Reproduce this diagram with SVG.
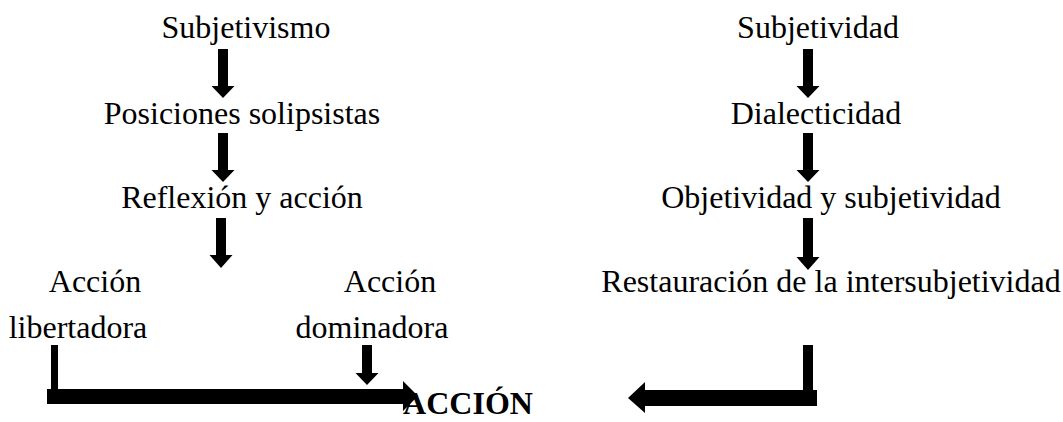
<svg xmlns="http://www.w3.org/2000/svg" width="1063" height="422" viewBox="0 0 1063 422">
<style>
.t{font-family:"Liberation Serif","Times New Roman",serif;font-size:32px;fill:#000;text-anchor:middle}
.b{font-weight:bold}
.a{fill:#000;stroke:none}
</style>
<rect width="1063" height="422" fill="#fff"/>
<g id="n-subjetivismo"><text class="t" x="246" y="38">Subjetivismo</text></g>
<g id="n-posiciones"><text class="t" x="242" y="124">Posiciones solipsistas</text></g>
<g id="n-reflexion"><text class="t" x="242" y="208">Reflexión y acción</text></g>
<g id="n-accion-lib"><text class="t" x="95" y="292">Acción</text><text class="t" x="78" y="338">libertadora</text></g>
<g id="n-accion-dom"><text class="t" x="390" y="292">Acción</text><text class="t" x="372" y="338">dominadora</text></g>
<g id="n-subjetividad"><text class="t" x="818" y="38">Subjetividad</text></g>
<g id="n-dialecticidad"><text class="t" x="816" y="124">Dialecticidad</text></g>
<g id="n-objetividad"><text class="t" x="831" y="208">Objetividad y subjetividad</text></g>
<g id="n-restauracion"><text class="t" x="831" y="292">Restauración de la intersubjetividad</text></g>
<g id="n-accion"><text class="t b" x="468" y="414">ACCIÓN</text></g>
<g id="connectors">
<path class="a" d="M218 49H228V86H234.5L223 98L211.5 86H218Z"/>
<path class="a" d="M218 133H228V170H234.5L223 182L211.5 170H218Z"/>
<path class="a" d="M216 218H226V255H232.5L221 268L209.5 255H216Z"/>
<path class="a" d="M803 49H813V86H819.5L808 98L796.5 86H803Z"/>
<path class="a" d="M803 133H813V170H819.5L808 182L796.5 170H803Z"/>
<path class="a" d="M803 218H813V257H819.5L808 270L796.5 257H803Z"/>
<rect class="a" x="51" y="345" width="7" height="50"/>
<path class="a" d="M47 389H403V381L418 396L403 411V404H47Z"/>
<path class="a" d="M362 345H372V373H378.5L367 385L355.5 373H362Z"/>
<rect class="a" x="803" y="345" width="10" height="50"/>
<path class="a" d="M817 390H645V382L628 398L645 413V406H817Z"/>
</g>
</svg>
